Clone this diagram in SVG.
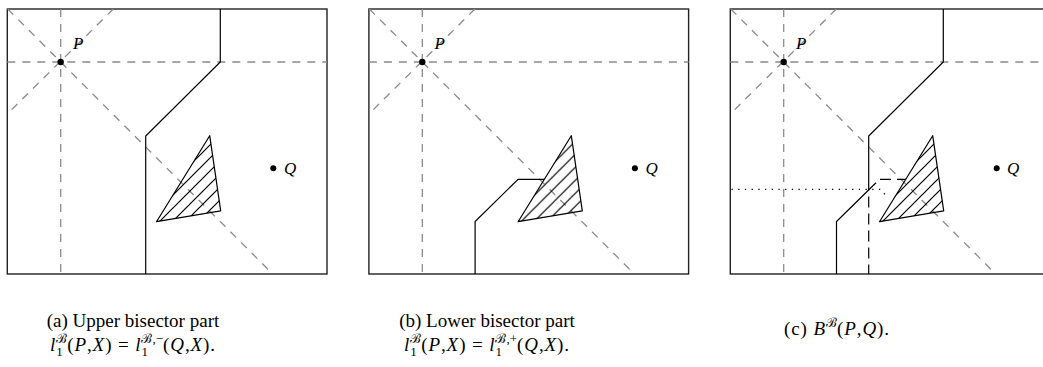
<svg xmlns="http://www.w3.org/2000/svg" width="1043" height="367" viewBox="0 0 1043 367">
<style>
.frame{fill:none;stroke:#222;stroke-width:1.4}
.guide{fill:none;stroke:#8a8a8a;stroke-width:1.3;stroke-dasharray:8 7}
.bis{fill:none;stroke:#000;stroke-width:1.2;stroke-linejoin:miter}
.bisd{fill:none;stroke:#000;stroke-width:1.2;stroke-dasharray:11 6}
.dotl{fill:none;stroke:#000;stroke-width:1.3;stroke-dasharray:1.3 5.4}
.obst{fill:url(#hatch);stroke:#000;stroke-width:1.2;stroke-linejoin:round}
.dot{fill:#000}
.lbl{font-family:"Liberation Serif","DejaVu Serif",serif;font-size:17px;font-style:italic}
.cap{font-family:"Liberation Serif","DejaVu Serif",serif;font-size:19px}
.math{letter-spacing:0.9px}
.it{font-style:italic}
.sc{font-size:13px;letter-spacing:0}
</style>
<defs>
<pattern id="hatch" patternUnits="userSpaceOnUse" x="4" y="0" width="13" height="13">
<path d="M0,13 L13,0 M-2,2 L2,-2 M11,15 L15,11" stroke="#000" stroke-width="1.2" fill="none"/>
</pattern>
</defs>

<g id="panel-a">
<rect class="frame" x="7.3" y="9" width="319.7" height="265"/>
<g id="guides-a">
<line class="guide" x1="7.3" y1="62" x2="327" y2="62"/>
<line class="guide" x1="60.7" y1="9" x2="60.7" y2="274"/>
<line class="guide" x1="7.7" y1="9" x2="272.7" y2="274"/>
<line class="guide" x1="113.3" y1="9" x2="7.3" y2="114"/>
</g>
<g id="bisector-a">
<polyline class="bis" points="220.3,9 220.3,62 145.7,136 145.7,274"/>
</g>
<polygon id="obstacle-a" class="obst" points="209.7,135.7 156.5,221.7 220.7,210.8"/>
<g id="P-a"><circle class="dot" cx="60.7" cy="62" r="3.2"/><text class="lbl" x="73" y="49">P</text></g>
<g id="Q-a"><circle class="dot" cx="273.3" cy="168.3" r="3"/><text class="lbl" x="284" y="174">Q</text></g>
</g>

<g id="panel-b" transform="translate(361.6,0)">
<rect class="frame" x="7.3" y="9" width="319.7" height="265"/>
<g id="guides-b">
<line class="guide" x1="7.3" y1="62" x2="327" y2="62"/>
<line class="guide" x1="60.7" y1="9" x2="60.7" y2="274"/>
<line class="guide" x1="7.7" y1="9" x2="272.7" y2="274"/>
<line class="guide" x1="113.3" y1="9" x2="7.3" y2="114"/>
</g>
<g id="bisector-b">
<polyline class="bis" points="113.5,274 113.5,221.5 156.5,179.3 182.7,179.3"/>
</g>
<polygon id="obstacle-b" class="obst" points="209.7,135.7 156.5,221.7 220.7,210.8"/>
<g id="P-b"><circle class="dot" cx="60.7" cy="62" r="3.2"/><text class="lbl" x="73" y="49">P</text></g>
<g id="Q-b"><circle class="dot" cx="273.3" cy="168.3" r="3"/><text class="lbl" x="284" y="174">Q</text></g>
</g>

<g id="panel-c" transform="translate(723,0)">
<rect class="frame" x="7.3" y="9" width="319.7" height="265"/>
<g id="guides-c">
<line class="guide" x1="7.3" y1="62" x2="327" y2="62"/>
<line class="guide" x1="60.7" y1="9" x2="60.7" y2="274"/>
<line class="guide" x1="7.7" y1="9" x2="272.7" y2="274"/>
<line class="guide" x1="113.3" y1="9" x2="7.3" y2="114"/>
</g>
<g id="bisector-c">
<polyline class="bis" points="220.3,9 220.3,62 145.7,136 145.7,190"/>
<polyline class="bis" points="113.5,274 113.5,221.5 153,182.7"/>
<line class="bisd" x1="145.7" y1="196.5" x2="145.7" y2="274"/>
<line class="bisd" x1="157" y1="179.3" x2="183" y2="179.3"/>
<polyline class="dotl" points="8.5,189.3 157,189.3 165,197.3"/>
</g>
<polygon id="obstacle-c" class="obst" points="209.7,135.7 156.5,221.7 220.7,210.8"/>
<g id="P-c"><circle class="dot" cx="60.7" cy="62" r="3.2"/><text class="lbl" x="73" y="49">P</text></g>
<g id="Q-c"><circle class="dot" cx="273.7" cy="168.3" r="3"/><text class="lbl" x="284" y="174">Q</text></g>
</g>

<g id="captions">
<text class="cap" x="133" y="327" text-anchor="middle">(a) Upper bisector part</text>
<text class="cap math" x="133" y="351" text-anchor="middle"><tspan class="it">l</tspan><tspan class="sc" dy="5">1</tspan><tspan class="sc" dx="-6.5" dy="-13">ℬ</tspan><tspan dy="8">(</tspan><tspan class="it">P</tspan>,<tspan class="it">X</tspan>) = <tspan class="it">l</tspan><tspan class="sc" dy="5">1</tspan><tspan class="sc" dx="-6.5" dy="-13">ℬ,−</tspan><tspan dy="8">(</tspan><tspan class="it">Q</tspan>,<tspan class="it">X</tspan>).</text>
<text class="cap" x="487" y="327" text-anchor="middle">(b) Lower bisector part</text>
<text class="cap math" x="487" y="351" text-anchor="middle"><tspan class="it">l</tspan><tspan class="sc" dy="5">1</tspan><tspan class="sc" dx="-6.5" dy="-13">ℬ</tspan><tspan dy="8">(</tspan><tspan class="it">P</tspan>,<tspan class="it">X</tspan>) = <tspan class="it">l</tspan><tspan class="sc" dy="5">1</tspan><tspan class="sc" dx="-6.5" dy="-13">ℬ,+</tspan><tspan dy="8">(</tspan><tspan class="it">Q</tspan>,<tspan class="it">X</tspan>).</text>
<text class="cap math" x="837" y="335" text-anchor="middle">(c) <tspan class="it">B</tspan><tspan class="sc" dy="-8">ℬ</tspan><tspan dy="8">(</tspan><tspan class="it">P</tspan>,<tspan class="it">Q</tspan>).</text>
</g>
</svg>
